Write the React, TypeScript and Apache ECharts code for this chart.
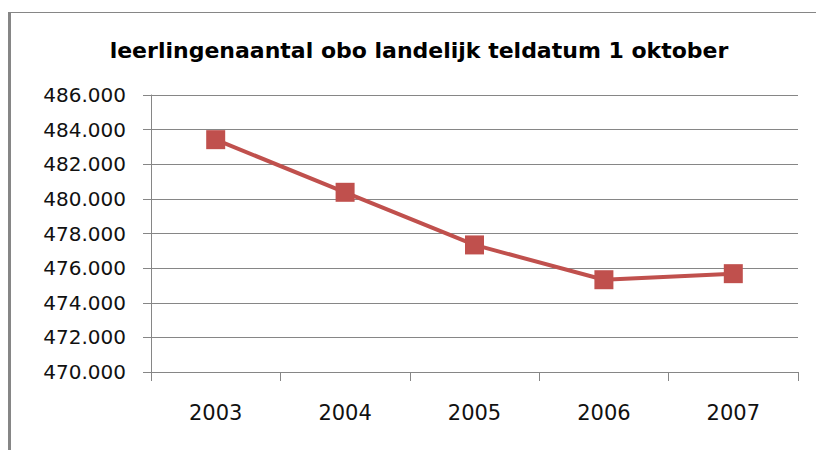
import React, { useEffect, useRef } from "react";
import * as echarts from "echarts";

const titleText = "leerlingenaantal obo landelijk teldatum 1 oktober";
const years = ["2003", "2004", "2005", "2006", "2007"];
const pupils = [483420, 480380, 477340, 475330, 475680];
const yMin = 470000;
const yMax = 486000;
const yStep = 2000;

export default function App() {
  const ref = useRef<HTMLDivElement>(null);
  useEffect(() => {
    if (!ref.current) return;
    const chart = echarts.init(ref.current, null, { renderer: "svg" });
    const gray = "#868686";
    chart.setOption({
      animation: false,
      backgroundColor: "#ffffff",
      title: {
        text: titleText,
        left: 414,
        top: 34,
        textAlign: "center",
        textStyle: {
          fontFamily: "DejaVu Sans",
          fontWeight: "bold",
          fontSize: 22,
          color: "#000000",
        },
      },
      grid: { left: 151, right: 18, top: 95, bottom: 78, containLabel: false },
      xAxis: {
        type: "category",
        data: years,
        boundaryGap: true,
        axisLine: { show: true, lineStyle: { color: gray, width: 1 } },
        axisTick: { show: true, length: 9, lineStyle: { color: gray } },
        axisLabel: {
          margin: 30,
          fontFamily: "DejaVu Sans",
          fontSize: 21,
          color: "#111111",
        },
        splitLine: { show: false },
      },
      yAxis: {
        type: "value",
        min: yMin,
        max: yMax,
        interval: yStep,
        axisLine: { show: true, lineStyle: { color: gray, width: 1 } },
        axisTick: { show: true, length: 8, lineStyle: { color: gray } },
        axisLabel: {
          margin: 25,
          fontFamily: "DejaVu Sans",
          fontSize: 20,
          color: "#111111",
          formatter: (v: number) => (v / 1000).toFixed(3),
        },
        splitLine: { show: true, lineStyle: { color: gray, width: 1 } },
      },
      series: [
        {
          type: "line",
          data: pupils,
          symbol: "rect",
          symbolSize: 19,
          lineStyle: { color: "#C0504D", width: 4 },
          itemStyle: { color: "#C0504D" },
        },
      ],
      graphic: [
        {
          type: "line",
          shape: { x1: 8, y1: 12.5, x2: 816, y2: 12.5 },
          style: { stroke: gray, lineWidth: 1 },
        },
        {
          type: "line",
          shape: { x1: 9.5, y1: 12, x2: 9.5, y2: 450 },
          style: { stroke: gray, lineWidth: 3 },
        },
      ],
    });
    return () => chart.dispose();
  }, []);
  return (
    <div
      ref={ref}
      style={{ position: "fixed", left: 0, top: 0, width: 816, height: 450 }}
    />
  );
}
